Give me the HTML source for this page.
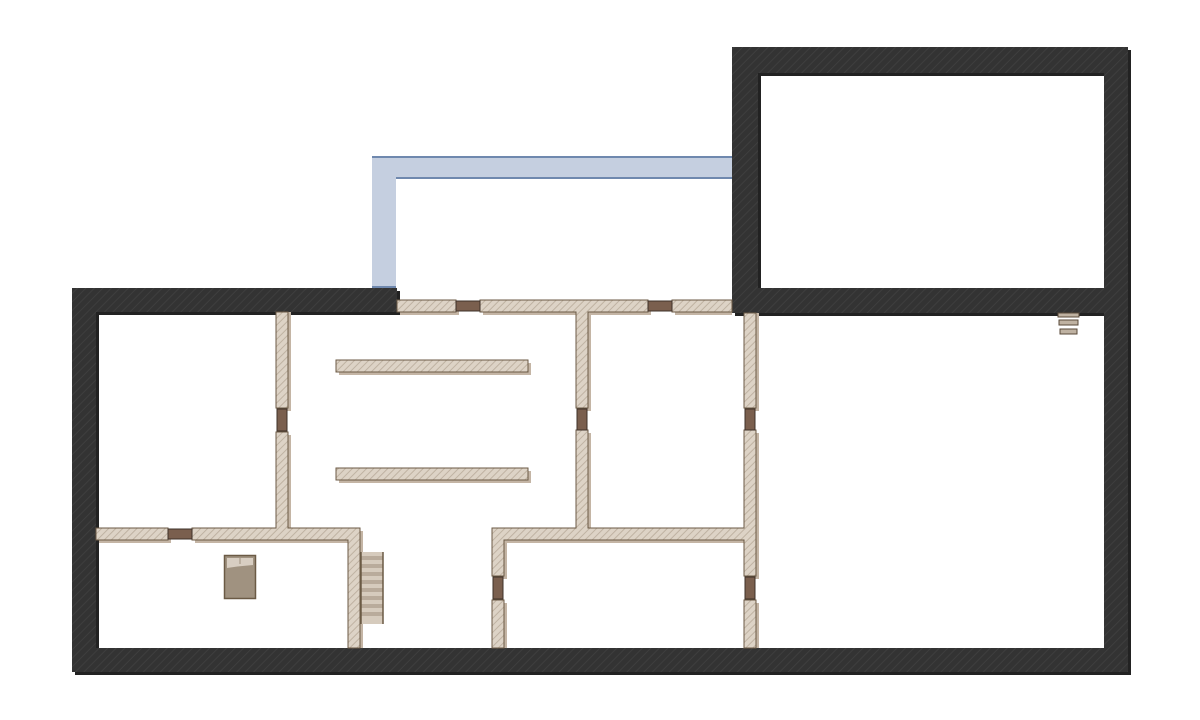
<!DOCTYPE html>
<html><head><style>html,body{margin:0;padding:0;background:#fff}svg{display:block}</style></head>
<body>
<svg width="1200" height="720" viewBox="0 0 1200 720" xmlns="http://www.w3.org/2000/svg">
<defs>
<pattern id="dh" width="6" height="6" patternUnits="userSpaceOnUse" patternTransform="rotate(45)">
<rect width="6" height="6" fill="#333"/><rect width="1" height="6" fill="#3e3e3e"/></pattern>
<pattern id="bh" width="5" height="5" patternUnits="userSpaceOnUse" patternTransform="rotate(45)">
<rect width="5" height="5" fill="#ddd3c6"/><rect width="1" height="5" fill="#bfb2a2"/></pattern>
</defs>
<!-- blue -->
<path d="M372,156 H732 V178 H396 V288 H372 Z" fill="#c5cfe0"/>
<line x1="372" y1="157" x2="732" y2="157" stroke="#6f88ae" stroke-width="2"/>
<line x1="396" y1="178" x2="732" y2="178" stroke="#6f88ae" stroke-width="2"/>
<line x1="372" y1="287" x2="396" y2="287" stroke="#6f88ae" stroke-width="2"/>
<!-- dark walls shadow -->
<g fill="#222">
<rect x="75" y="291" width="325" height="24"/>
<rect x="75" y="291" width="24" height="384"/>
<rect x="75" y="651" width="1056" height="24"/>
<rect x="1107" y="50" width="24" height="625"/>
<rect x="735" y="50" width="396" height="26"/>
<rect x="735" y="50" width="26" height="266"/>
<rect x="735" y="291" width="396" height="25"/>
</g>
<!-- dark walls -->
<g fill="url(#dh)">
<rect x="72" y="288" width="325" height="24"/>
<rect x="72" y="288" width="24" height="384"/>
<rect x="72" y="648" width="1056" height="24"/>
<rect x="1104" y="47" width="24" height="625"/>
<rect x="732" y="47" width="396" height="26"/>
<rect x="732" y="47" width="26" height="266"/>
<rect x="732" y="288" width="396" height="25"/>
</g>
<!-- beige walls shadow -->
<g fill="#c4b5a5">
<rect x="400" y="303" width="59" height="12"/><rect x="483" y="303" width="168" height="12"/><rect x="675" y="303" width="57" height="12"/>
<rect x="579" y="312" width="12" height="99"/><rect x="579" y="433" width="12" height="98"/>
<rect x="747" y="313" width="12" height="98"/><rect x="747" y="433" width="12" height="146"/><rect x="747" y="603" width="12" height="45"/>
<rect x="495" y="531" width="264" height="12"/><rect x="495" y="531" width="12" height="48"/><rect x="495" y="603" width="12" height="45"/>
<rect x="279" y="312" width="12" height="99"/><rect x="279" y="435" width="12" height="96"/>
<rect x="99" y="531" width="72" height="12"/><rect x="195" y="531" width="168" height="12"/><rect x="351" y="531" width="12" height="117"/>
<rect x="339" y="363" width="192" height="12"/><rect x="339" y="471" width="192" height="12"/>
</g>
<!-- beige walls -->
<g fill="url(#bh)" stroke="#6b5a45" stroke-width="1">
<rect x="397" y="300" width="59" height="12"/><rect x="672" y="300" width="60" height="12"/>
<path d="M480,300 H648 V312 H588 V408 H576 V312 H480 Z"/>
<path d="M576,430 H588 V528 H744 V430 H756 V576 H744 V540 H504 V576 H492 V528 H576 Z"/>
<rect x="744" y="313" width="12" height="95"/>
<rect x="744" y="600" width="12" height="48"/><rect x="492" y="600" width="12" height="48"/>
<rect x="276" y="312" width="12" height="96"/>
<path d="M276,432 H288 V528 H360 V648 H348 V540 H192 V528 H276 Z"/>
<rect x="96" y="528" width="72" height="12"/>
<rect x="336" y="360" width="192" height="12"/><rect x="336" y="468" width="192" height="12"/>
</g>
<!-- doors -->
<g fill="#7a5f4e" stroke="#3e3028" stroke-width="1">
<rect x="456" y="301" width="24" height="10"/><rect x="648" y="301" width="24" height="10"/>
<rect x="577" y="409" width="10" height="21"/><rect x="745" y="409" width="10" height="21"/>
<rect x="745" y="577" width="10" height="22"/><rect x="493" y="577" width="10" height="22"/>
<rect x="277" y="409" width="10" height="22"/><rect x="168" y="529" width="24" height="10"/>
</g>
<!-- stairs -->
<rect x="361" y="552" width="22" height="72" fill="#d6cbbd"/>
<g fill="#b9ab9b"><rect x="361" y="556" width="22" height="4"/><rect x="361" y="564" width="22" height="4"/><rect x="361" y="572" width="22" height="4"/><rect x="361" y="580" width="22" height="4"/><rect x="361" y="588" width="22" height="4"/><rect x="361" y="596" width="22" height="4"/><rect x="361" y="604" width="22" height="4"/><rect x="361" y="612" width="22" height="4"/></g>
<line x1="383" y1="552" x2="383" y2="624" stroke="#6b5a45" stroke-width="1.5"/>
<line x1="361" y1="552" x2="361" y2="624" stroke="#6b5a45" stroke-width="1.5"/>
<!-- bed -->
<rect x="224.5" y="555.5" width="31" height="43" fill="#a09280" stroke="#6b5a45" stroke-width="1.5"/>
<path d="M227,558 H253 V565 Q240,566 227,568 Z" fill="#d8cec2"/>
<line x1="240" y1="558" x2="240" y2="564" stroke="#a09280"/>
<!-- small steps -->
<g fill="#bfb2a2" stroke="#5a4a3a" stroke-width="1">
<rect x="1058" y="313" width="21" height="4"/><rect x="1059" y="320" width="19" height="5"/><rect x="1060" y="329" width="17" height="5"/>
</g>
</svg>
</body></html>
